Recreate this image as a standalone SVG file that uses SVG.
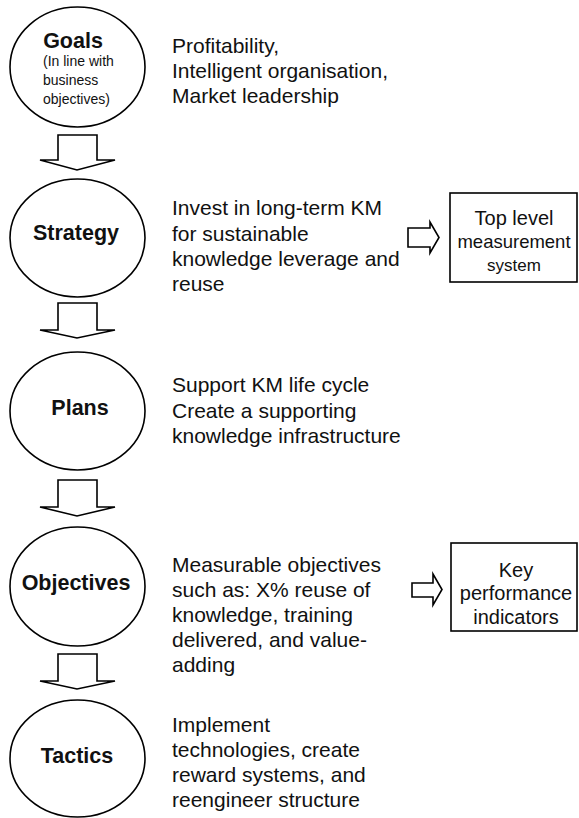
<svg xmlns="http://www.w3.org/2000/svg" width="579" height="818" viewBox="0 0 579 818">
<style>
.node ellipse{fill:#fff;stroke:#000;stroke-width:1.6}
.box{fill:#fff;stroke:#000;stroke-width:1.6}
.arr{fill:#fff;stroke:#000;stroke-width:1.6;stroke-linejoin:miter}
.t{font-family:"Liberation Sans",Arial,sans-serif;fill:#111}
.title{font-size:21.5px;font-weight:bold;text-anchor:middle}
.small{font-size:14px}
.desc{font-size:21px}
.bx{font-size:20px;text-anchor:middle}
</style>
<rect width="579" height="818" fill="#fff"/>
<g id="connectors">
<path class="arr" d="M58,135 H97 V160 H115 L77,170 L40,160 H58 Z"/>
<path class="arr" d="M58,303 H97 V330 H115 L77,338 L40,330 H58 Z"/>
<path class="arr" d="M58,480 H97 V507 H115 L77,516 L40,507 H58 Z"/>
<path class="arr" d="M58,654 H97 V681 H115 L77,689 L40,681 H58 Z"/>
<path class="arr" d="M408,228 H430 V222 L439,237.5 L430,253 V247 H408 Z"/>
<path class="arr" d="M412,583 H433 V574 L442,589.5 L433,605 V597 H412 Z"/>
</g>
<g id="goals" class="node">
<ellipse cx="77.5" cy="67" rx="67.5" ry="60"/>
<text class="t title" x="73" y="48">Goals</text>
<text class="t small" x="43" y="66">(In line with</text>
<text class="t small" x="43" y="85">business</text>
<text class="t small" x="43" y="104">objectives)</text>
</g>
<g id="goals-desc">
<text class="t desc" x="172" y="53">Profitability,</text>
<text class="t desc" x="172" y="78">Intelligent organisation,</text>
<text class="t desc" x="172" y="103">Market leadership</text>
</g>
<g id="strategy" class="node">
<ellipse cx="77.5" cy="238" rx="67.5" ry="59"/>
<text class="t title" x="76" y="240">Strategy</text>
</g>
<g id="strategy-desc">
<text class="t desc" x="172" y="215">Invest in long-term KM</text>
<text class="t desc" x="172" y="240.5">for sustainable</text>
<text class="t desc" x="172" y="266">knowledge leverage and</text>
<text class="t desc" x="172" y="291">reuse</text>
</g>
<g id="top-level">
<rect class="box" x="450" y="193" width="127" height="89"/>
<text class="t bx" x="514" y="225">Top level</text>
<text class="t bx" x="514" y="248" style="font-size:18.5px">measurement</text>
<text class="t bx" x="514" y="271" style="font-size:17px">system</text>
</g>
<g id="plans" class="node">
<ellipse cx="77.5" cy="411" rx="67.5" ry="59"/>
<text class="t title" x="80" y="415">Plans</text>
</g>
<g id="plans-desc">
<text class="t desc" x="172" y="392">Support KM life cycle</text>
<text class="t desc" x="172" y="418">Create a supporting</text>
<text class="t desc" x="172" y="443">knowledge infrastructure</text>
</g>
<g id="objectives" class="node">
<ellipse cx="77.5" cy="586.5" rx="67.5" ry="59.5"/>
<text class="t title" x="76" y="590">Objectives</text>
</g>
<g id="objectives-desc">
<text class="t desc" x="172" y="572">Measurable objectives</text>
<text class="t desc" x="172" y="597">such as: X% reuse of</text>
<text class="t desc" x="172" y="622">knowledge, training</text>
<text class="t desc" x="172" y="647">delivered, and value-</text>
<text class="t desc" x="172" y="672">adding</text>
</g>
<g id="kpi">
<rect class="box" x="451" y="543" width="126" height="88"/>
<text class="t bx" x="516" y="577">Key</text>
<text class="t bx" x="516" y="600">performance</text>
<text class="t bx" x="516" y="624">indicators</text>
</g>
<g id="tactics" class="node">
<ellipse cx="77.5" cy="758.5" rx="67.5" ry="58.5"/>
<text class="t title" x="77" y="763">Tactics</text>
</g>
<g id="tactics-desc">
<text class="t desc" x="172" y="732">Implement</text>
<text class="t desc" x="172" y="757">technologies, create</text>
<text class="t desc" x="172" y="782">reward systems, and</text>
<text class="t desc" x="172" y="807">reengineer structure</text>
</g>
</svg>
